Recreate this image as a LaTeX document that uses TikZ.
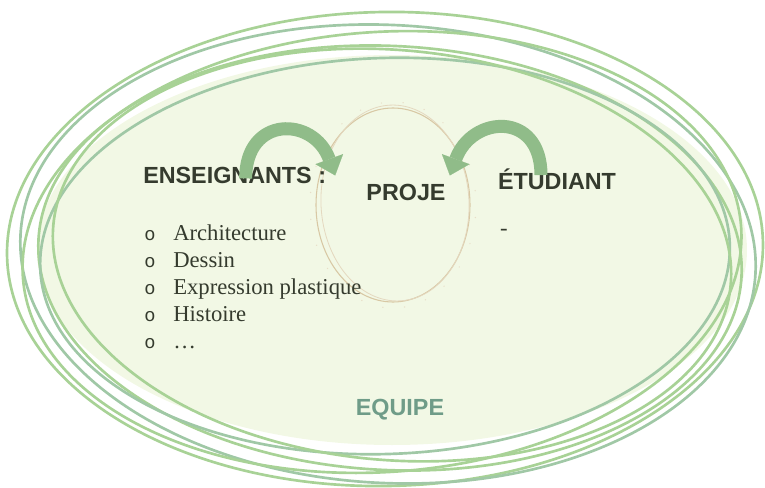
\documentclass[tikz,border=0pt]{standalone}
\usepackage{fontspec}
\setmainfont{Liberation Serif}
\setsansfont{Liberation Sans}
\setmonofont{Liberation Mono}
\usetikzlibrary{arrows.meta, positioning}
\definecolor{equipefond}{HTML}{F2F8E5}
\definecolor{anneau}{HTML}{A8D296}
\definecolor{anneaugris}{HTML}{A0C8A6}
\definecolor{projring}{HTML}{D8C8A4}
\definecolor{flechevert}{HTML}{90BC89}
\definecolor{texte}{HTML}{353B2E}
\definecolor{equipevert}{HTML}{6F9C88}

\begin{document}
\begin{tikzpicture}[x=0.75pt, y=0.75pt,
  ring/.style={line width=2pt},
  titre/.style={font=\sffamily\bfseries\fontsize{17.5}{21}\selectfont, text=texte, inner sep=0pt},
  liste/.style={font=\fontsize{17}{20}\selectfont, text=texte, inner sep=0pt, anchor=base west},
  fleche/.style={line width=9.75pt, flechevert, -{Triangle[width=22pt, length=13pt, line width=0.1pt]}}]
  \useasboundingbox (0,0) rectangle (765,487);

  % fond de l'equipe
  \fill[equipefond] (392,237) ellipse[x radius=355, y radius=195];

  % anneaux
  \foreach \cx/\cy/\rx/\ry/\rot/\col in {385/238/378/237/1/anneau, 388/233/368/229/-3/anneaugris,
      382/235/360/220/4/anneau, 390/229/352/212/-3/anneau, 385/231/345/198/2/anneaugris,
      392/232/340/205/-5/anneau}
    \draw[ring, draw=\col, rotate around={\rot:(\cx,\cy)}] (\cx,\cy) ellipse[x radius=\rx, y radius=\ry];

  % anneau du projet
  \draw[projring, line width=0.8pt] (393,282) ellipse[x radius=77, y radius=97];
  \draw[projring!70, line width=0.6pt, rotate around={3:(395,284)}] (395,284) ellipse[x radius=74, y radius=98];
  \foreach \a in {8,23,...,353}
    \fill[projring!60] ([shift={(\a:83 and 103)}]393,282) circle (0.7);

  % textes
  \node[titre, anchor=base west] (ens) at (143,304) {ENSEIGNANTS :};
  \node[titre, anchor=base] (proj) at (406,287) {PROJE};
  \node[titre, anchor=base] (etu) at (557,298) {ÉTUDIANT};
  \node[titre, anchor=base, text=equipevert] (equipe) at (400,72) {EQUIPE};
  \node[liste, anchor=base] (tiret) at (504,252) {-};
  \foreach \mot [count=\i] in {Architecture, Dessin, Expression plastique, Histoire, …} {
    \node[liste, font=\ttfamily\fontsize{14}{16}\selectfont] (puce\i) at (144,{274-27*\i}) {o};
    \node[liste] (item\i) at (173,{274-27*\i}) {\mot};
  }

  % fleches vers le projet
  \draw[fleche] ([shift={(11,-12)}]ens.north) to[out=90, in=110, looseness=1.8] ([shift={(-31,8)}]proj.north west);
  \draw[fleche] ([shift={(-16,-7)}]etu.north) to[out=90, in=70, looseness=1.8] ([shift={(4,8)}]proj.north east);
\end{tikzpicture}
\end{document}
